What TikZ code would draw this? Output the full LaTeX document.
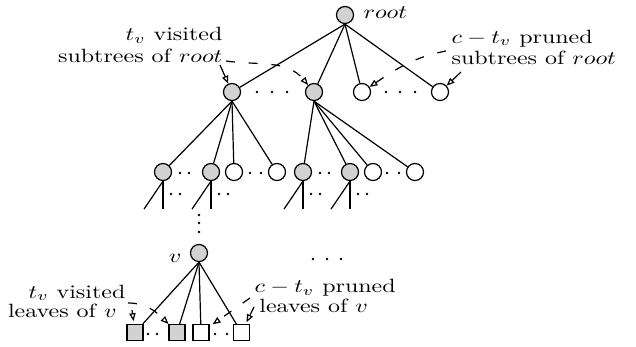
\documentclass[tikz,border=0pt]{standalone}
\usepackage{graphicx}
\usetikzlibrary{arrows.meta}
\begin{document}
\begin{tikzpicture}[x=0.417pt, y=0.417pt, line width=0.5pt, >={Triangle[open,length=3.3pt,width=2.6pt]}]
    % Colours
    \definecolor{visitgray}{RGB}{210,210,210}

    % Styles
    \tikzset{
        visited/.style={circle, draw, fill=visitgray, minimum size=7.1pt, inner sep=0pt},
        pruned/.style={circle, draw, fill=white, minimum size=7.1pt, inner sep=0pt},
        visitedleaf/.style={rectangle, draw, fill=visitgray, minimum size=6.6pt, inner sep=0pt},
        prunedleaf/.style={rectangle, draw, fill=white, minimum size=6.6pt, inner sep=0pt},
        note/.style={inner sep=0pt, font=\fontsize{10}{11.4}\selectfont},
        leafnote/.style={note, font=\fontsize{10}{10.2}\selectfont},
        notearrow/.style={->},
        notedash/.style={->, dash pattern=on 3.7pt off 5.8pt}
    }
    \useasboundingbox (0,0) rectangle (636,346);

    % Macro for one small dot
    % \treedot{x}{y}
    \newcommand{\treedot}[2]{\fill (#1,#2) circle[radius=0.55pt];}
    % Macro for a squeezed text block
    % \notetext{align}{text}
    \newcommand{\notetext}[2]{\scalebox{1}[0.8]{\begin{tabular}[t]{@{}#1@{}}#2\end{tabular}}}

    % 1. Root and first level
    \node[visited] (root) at (345,331) {};
    \node[note, anchor=base west] (rootlabel) at (363,327.7) {\notetext{l}{$root$}};

    \node[visited] (a1) at (232,254) {};
    \node[visited] (a2) at (314,254) {};
    \node[pruned]  (a3) at (362,254) {};
    \node[pruned]  (a4) at (440,254) {};
    \foreach \n in {a1,a2,a3,a4}
        \draw (root.south) -- (\n);
    \foreach \x in {257,272,287,386,400,415} {
        \treedot{\x}{254}
    }

    % 2. Second level
    \node[visited] (b1) at (163,174) {};
    \node[visited] (b2) at (211,174) {};
    \node[pruned]  (b3) at (234,174) {};
    \node[pruned]  (b4) at (277,174) {};
    \node[visited] (b5) at (303,174) {};
    \node[visited] (b6) at (350,174) {};
    \node[pruned]  (b7) at (373,174) {};
    \node[pruned]  (b8) at (415,174) {};
    \foreach \n in {b1,b2,b3,b4}
        \draw (a1.south) -- (\n);
    \foreach \n in {b5,b6,b7,b8}
        \draw (a2.south) -- (\n);
    \foreach \x in {180,189,250,261,320,329,387,399} {
        \treedot{\x}{173}
    }

    % stubs below the visited subtrees
    \foreach \n in {b1,b2,b5,b6} {
        \draw (\n.south) -- ++(-19,-28);
        \draw (\n.south) -- ++(0,-28);
        \fill ([shift={(8,-22)}]\n.center) circle[radius=0.55pt];
        \fill ([shift={(17,-22)}]\n.center) circle[radius=0.55pt];
    }

    % 3. Node v and its leaves
    \foreach \y in {131,123,114} {
        \treedot{199}{\y}
    }
    \foreach \x in {313,327,341} {
        \treedot{\x}{87}
    }

    \node[visited] (v) at (199,93) {};
    \node[note, anchor=base east] (vlabel) at (182,83.5) {\notetext{r}{$v$}};

    \node[visitedleaf] (l1) at (135,13.5) {};
    \node[visitedleaf] (l2) at (177,13.5) {};
    \node[prunedleaf]  (l3) at (201,13.5) {};
    \node[prunedleaf]  (l4) at (241.5,13.5) {};
    \foreach \n in {l1,l2,l3,l4}
        \draw (v.south) -- (\n);
    \foreach \x in {148,157,215,227} {
        \treedot{\x}{12}
    }

    % 4. Notes
    \node[note, anchor=base east] (visroot) at (223,305.3)
        {\notetext{r}{$t_v$ visited\\subtrees of $root$}};
    \node[note, anchor=base west] (prunroot) at (451,303)
        {\notetext{l}{$c-t_v$ pruned\\subtrees of $root$}};
    \node[leafnote, anchor=base east] (visleaf) at (126,48)
        {\notetext{r}{$t_v$ visited\\leaves of $v$\hspace*{3.7pt}}};
    \node[leafnote, anchor=base west] (prunleaf) at (254,53.3)
        {\notetext{l}{$c-t_v$ pruned\\\hspace*{2pt}leaves of $v$}};

    \coordinate (visroota) at (220,281);
    \coordinate (visrootb) at (226,285);
    \coordinate (prunroota) at (446,295);
    \coordinate (prunrootb) at (461,274);
    \coordinate (visleafa) at (132,36);
    \coordinate (visleafb) at (128,43);
    \coordinate (prunleafa) at (250,48);
    \coordinate (prunleafb) at (254,39);

    \draw[notearrow] (visroota) -- (a1);
    \draw[notedash] (visrootb) to[out=-8, in=130] (a2);
    \draw[notedash] (prunroota) to[out=191, in=34] (a3);
    \draw[notearrow] (prunrootb) -- (a4);
    \draw[notearrow, shorten >=1.2pt] (visleafa) -- (l1);
    \draw[notedash] (visleafb) to[out=0, in=135] (l2);
    \draw[notedash, shorten >=1.6pt] (prunleafa) -- (l3);
    \draw[notearrow, shorten >=0.8pt] (prunleafb) -- (l4);

\end{tikzpicture}
\end{document}
